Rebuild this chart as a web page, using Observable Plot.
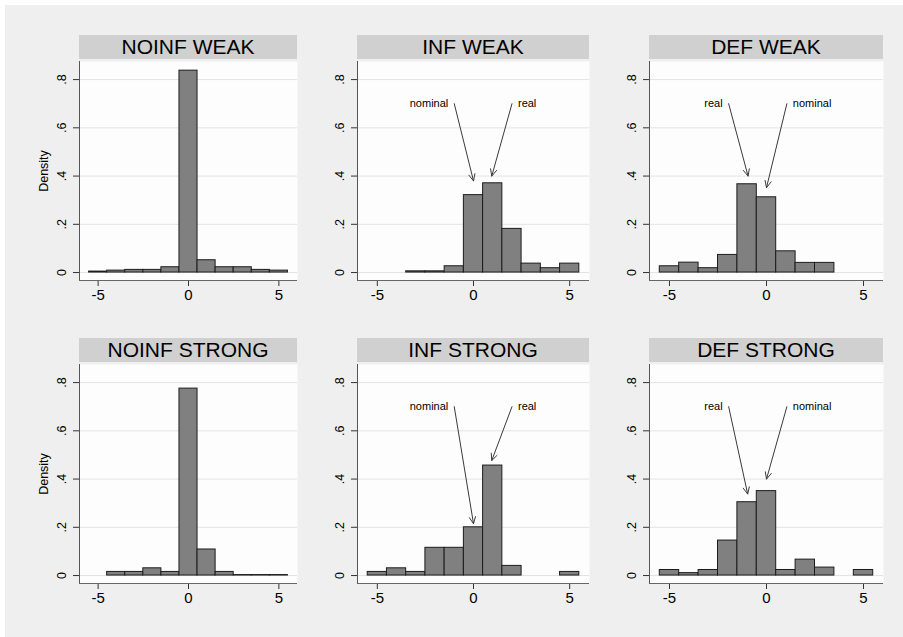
<!DOCTYPE html>
<html><head><meta charset="utf-8">
<script src="https://cdn.jsdelivr.net/npm/d3@7"></script>
<script src="https://cdn.jsdelivr.net/npm/@observablehq/plot@0.6"></script>
<style>
body{margin:0;background:#fff;}
#wrap{position:relative;width:903px;height:637px;overflow:hidden;font-family:"Liberation Sans",Arial,sans-serif;}
#bg{position:absolute;left:5px;top:5px;right:0;bottom:0;background:#efefef;}
.strip{position:absolute;background:#d0d0d0;color:#000;font-size:21px;line-height:24px;height:24px;text-align:center;white-space:nowrap;}
.panel{position:absolute;}
.ytitle{position:absolute;font-size:12.5px;color:#000;transform:translate(-50%,-50%) rotate(-90deg);white-space:nowrap;}
</style></head>
<body><div id="wrap"><div id="bg"></div></div>
<script>
// ---- data ----
const bins = [-5, -4, -3, -2, -1, 0, 1, 2, 3, 4, 5];
const panelTitles = ["NOINF WEAK", "INF WEAK", "DEF WEAK", "NOINF STRONG", "INF STRONG", "DEF STRONG"];
const noinfWeak   = [0.004, 0.008, 0.011, 0.011, 0.022, 0.837, 0.051, 0.022, 0.022, 0.011, 0.008];
const infWeak     = [null, null, 0.005, 0.005, 0.026, 0.321, 0.370, 0.181, 0.037, 0.018, 0.037];
const defWeak     = [0.026, 0.041, 0.018, 0.073, 0.366, 0.312, 0.088, 0.040, 0.040, null, null];
const noinfStrong = [null, 0.015, 0.015, 0.030, 0.015, 0.775, 0.108, 0.015, 0.002, 0.002, 0.002];
const infStrong   = [0.015, 0.030, 0.015, 0.115, 0.115, 0.200, 0.456, 0.040, null, null, 0.015];
const defStrong   = [0.023, 0.010, 0.023, 0.145, 0.304, 0.350, 0.023, 0.066, 0.033, null, 0.023];
const panelSeries = [noinfWeak, infWeak, defWeak, noinfStrong, infStrong, defStrong];

// annotations: label, arrow start (x1,y1) -> arrow tip (x2,y2), side of text
const infWeakNotes   = [{label: "nominal", x1: -1.0, y1: 0.70, x2: 0.0, y2: 0.38, side: "end"},
                        {label: "real", x1: 2.0, y1: 0.70, x2: 0.95, y2: 0.40, side: "start"}];
const defWeakNotes   = [{label: "real", x1: -1.95, y1: 0.70, x2: -0.95, y2: 0.40, side: "end"},
                        {label: "nominal", x1: 1.05, y1: 0.70, x2: 0.0, y2: 0.352, side: "start"}];
const infStrongNotes = [{label: "nominal", x1: -1.0, y1: 0.70, x2: 0.0, y2: 0.215, side: "end"},
                        {label: "real", x1: 2.0, y1: 0.70, x2: 0.95, y2: 0.477, side: "start"}];
const defStrongNotes = [{label: "real", x1: -1.95, y1: 0.70, x2: -0.97, y2: 0.338, side: "end"},
                        {label: "nominal", x1: 1.05, y1: 0.70, x2: 0.0, y2: 0.40, side: "start"}];
const panelNotes = [[], infWeakNotes, defWeakNotes, [], infStrongNotes, defStrongNotes];

const xTicks = [-5, 0, 5];
const yTicks = [0, 0.2, 0.4, 0.6, 0.8];
const xDomain = [-6.03, 6.03];
const yDomain = [-0.033, 0.875];
const yTitle = "Density";

// ---- layout ----
const colLeft = [79, 357, 649];
const colWidth = [218, 232, 234];
const rowTop = [61, 364];
const plotH = 219;
const mTop = 2, mRight = 2, mBottom = 40;

const wrap = document.getElementById("wrap");
const fmtY = d => d === 0 ? "0" : String(d).replace(/^0/, "");

panelSeries.forEach((series, i) => {
  const col = i % 3, row = Math.floor(i / 3);
  const mLeft = col === 0 ? 49 : 30;
  const data = bins.map((b, k) => ({b, v: series[k]})).filter(d => d.v != null);
  const notes = panelNotes[i];
  const chart = Plot.plot({
    width: mLeft + colWidth[col] + mRight,
    height: mTop + plotH + mBottom,
    marginLeft: mLeft, marginRight: mRight, marginTop: mTop, marginBottom: mBottom,
    style: {background: "transparent", fontFamily: "'Liberation Sans', Arial, sans-serif", color: "#000", overflow: "visible"},
    x: {domain: xDomain},
    y: {domain: yDomain},
    marks: [
      Plot.frame({fill: "#fdfdfd", stroke: "none"}),
      Plot.gridY(yTicks, {stroke: "#e3e3e3", strokeOpacity: 1}),
      Plot.axisY({ticks: yTicks, tickSize: 6, tickFormat: fmtY, tickRotate: -90, tickPadding: 8, fontSize: 12.5, label: null, stroke: "#333"}),
      Plot.axisX({ticks: xTicks, tickSize: 6, tickFormat: d => String(d), tickPadding: 3, fontSize: 15, label: null, stroke: "#333"}),
      Plot.ruleX([xDomain[0]], {stroke: "#555"}),
      Plot.ruleY([yDomain[0]], {stroke: "#666"}),
      Plot.rectY(data, {x1: d => d.b - 0.5, x2: d => d.b + 0.5, y: "v", fill: "#808080", stroke: "#1c1c1c", strokeWidth: 1}),
      Plot.arrow(notes, {x1: "x1", y1: "y1", x2: "x2", y2: "y2", stroke: "#3a3a3a", strokeWidth: 1, headLength: 11, headAngle: 50, bend: 0}),
      Plot.text(notes.filter(d => d.side === "end"), {x: "x1", y: "y1", text: "label", textAnchor: "end", dx: -6, fontSize: 11, fill: "#000"}),
      Plot.text(notes.filter(d => d.side === "start"), {x: "x1", y: "y1", text: "label", textAnchor: "start", dx: 6, fontSize: 11, fill: "#000"})
    ]
  });
  chart.classList.add("panel");
  chart.style.left = (colLeft[col] - mLeft) + "px";
  chart.style.top = (rowTop[row] - mTop) + "px";
  wrap.appendChild(chart);

  const strip = document.createElement("div");
  strip.className = "strip";
  strip.style.left = colLeft[col] + "px";
  strip.style.width = colWidth[col] + "px";
  strip.style.top = (rowTop[row] - 26) + "px";
  strip.textContent = panelTitles[i];
  wrap.appendChild(strip);

  if (col === 0) {
    const t = document.createElement("div");
    t.className = "ytitle";
    t.style.left = "44px";
    t.style.top = (rowTop[row] + plotH / 2) + "px";
    t.textContent = yTitle;
    wrap.appendChild(t);
  }
});
</script>
</body></html>
